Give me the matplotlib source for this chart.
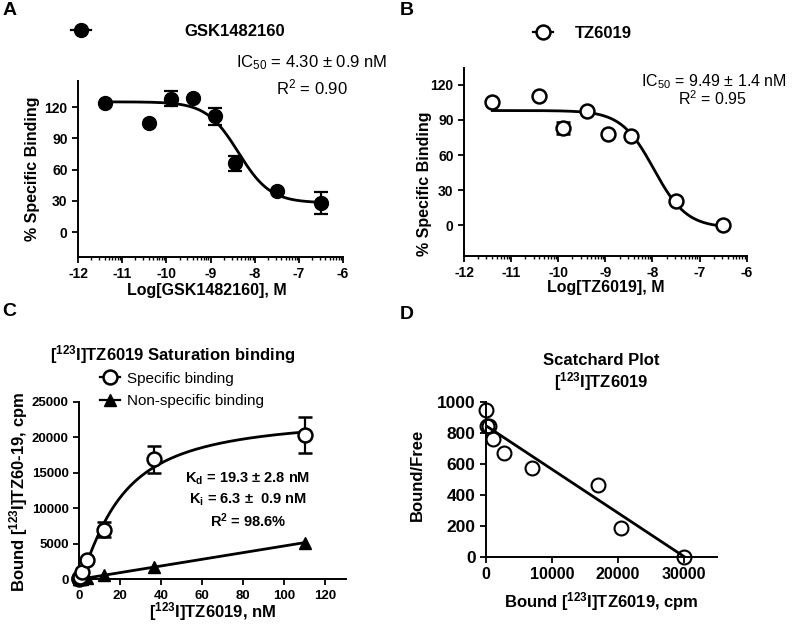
import numpy as np
import matplotlib
matplotlib.use('Agg')
import matplotlib.pyplot as plt
from matplotlib.lines import Line2D

plt.rcParams['font.family'] = ['Liberation Sans', 'DejaVu Sans']
plt.rcParams['mathtext.fontset'] = 'custom'
plt.rcParams['mathtext.rm'] = 'Liberation Sans'
plt.rcParams['mathtext.it'] = 'Liberation Sans'
plt.rcParams['mathtext.bf'] = 'Liberation Sans:bold'
plt.rcParams['mathtext.default'] = 'regular'
plt.rcParams['axes.unicode_minus'] = False

# ---------------- data ----------------
# Panel A: GSK1482160 competition
logA = [-11.4, -10.4, -9.9, -9.4, -8.9, -8.45, -7.5, -6.5]
bindA = [124, 105, 128, 129, 111, 66, 39.5, 27.5]
errA = [0, 0, 7, 0, 8, 7, 0, 10.5]
fitA = dict(top=125, bottom=28, logic50=-8.37, hill=1.2)

# Panel B: TZ6019 competition
logB = [-11.4, -10.4, -9.9, -9.4, -8.95, -8.45, -7.5, -6.5]
bindB = [105, 110, 83, 98, 78, 76, 20.5, 0]
errB = [0, 0, 5, 0, 0, 0, 0, 0]
fitB = dict(top=98, bottom=-2, logic50=-7.97, hill=1.25)

# Panel C: saturation binding
concC = [0.05, 0.15, 0.45, 1.36, 4.07, 12.2, 36.7, 110]
specC = [47, 126, 380, 1030, 2730, 7000, 16900, 20300]
specErrC = [0, 0, 0, 0, 0, 1000, 1900, 2500]
nonspecC = [5, 10, 25, 70, 200, 560, 1700, 5150]
fitC = dict(bmax=23000, kd=20.0, h=1.3)
nsSlope = 47.0

# Panel D: Scatchard
boundD = [47, 126, 380, 1030, 2730, 7000, 16900, 20400, 30000]
bfD = [946, 843, 843, 757, 671, 574, 460, 187, 0]
lineD = dict(intercept=845, xint=30000)

# ---------------- figure ----------------
fig = plt.figure(figsize=(8, 6.27), dpi=100)
W, H = 800, 627


def axes_px(x0, x1, y0, y1):
    return fig.add_axes([x0 / W, 1 - y1 / H, (x1 - x0) / W, (y1 - y0) / H])


def style(ax, tick_fs):
    for s in ['top', 'right']:
        ax.spines[s].set_visible(False)
    for s in ['left', 'bottom']:
        ax.spines[s].set_linewidth(1.4)
    ax.tick_params(direction='out', length=4, width=1.3, labelsize=tick_fs)
    for lab in ax.get_xticklabels() + ax.get_yticklabels():
        lab.set_fontweight('bold')


def labels(ax, xl, yl, xpos, ypos, xfs, yfs):
    ax.set_xlabel(xl, fontsize=xfs, fontweight='bold')
    ax.set_ylabel(yl, fontsize=yfs, fontweight='bold')
    ax.xaxis.label.set_va('center')
    ax.yaxis.label.set_va('center')
    ax.xaxis.set_label_coords(*xpos)
    ax.yaxis.set_label_coords(*ypos)


def sigmoid(x, p):
    return p['bottom'] + (p['top'] - p['bottom']) / (1 + 10 ** ((x - p['logic50']) * p['hill']))


minor_log = [d + np.log10(k) for d in range(-12, -6) for k in range(2, 10)]

# ---- Panel A ----
axA = axes_px(78, 343, 81, 257)
axA.set_xlim(-12, -6)
axA.set_ylim(-24, 145)
xs = np.linspace(min(logA), max(logA), 300)
axA.plot(xs, sigmoid(xs, fitA), color='black', lw=2)
axA.errorbar(logA, bindA, yerr=errA, fmt='o', color='black', ms=10,
             elinewidth=1.6, capsize=5, capthick=1.6, clip_on=False, zorder=3)
axA.set_xticks(range(-12, -5))
axA.set_xticks(minor_log, minor=True)
axA.set_yticks([0, 30, 60, 90, 120])
axA.tick_params(axis='x', which='minor', direction='out', length=2.5, width=1.0)
style(axA, 10)
labels(axA, 'Log[GSK1482160], M', '% Specific Binding', (0.486, -0.193), (-0.17, 0.5), 11.5, 11.5)
hA = Line2D([], [], marker='o', color='black', ms=10, lw=1.6)
axA.legend([hA], ['GSK1482160'], loc='center left', bbox_to_anchor=(-0.025, 1.284),
           frameon=False, borderpad=0, borderaxespad=0, handlelength=1.2,
           handletextpad=5.6, prop={'weight': 'bold', 'size': 12})
axA.text(1.166, 1.102, 'IC$_{50}$ = 4.30 ± 0.9 nM', transform=axA.transAxes,
         ha='right', va='center', fontsize=12)
axA.text(1.019, 0.966, 'R$^2$ = 0.90', transform=axA.transAxes,
         ha='right', va='center', fontsize=12)

# ---- Panel B ----
axB = axes_px(464, 746.7, 68.3, 256)
axB.set_xlim(-12, -6)
axB.set_ylim(-26, 134)
xs = np.linspace(min(logB), max(logB), 300)
axB.plot(xs, sigmoid(xs, fitB), color='black', lw=2)
axB.errorbar(logB, bindB, yerr=errB, fmt='o', color='black', mfc='white', mew=1.8,
             ms=10, elinewidth=1.6, capsize=5, capthick=1.6, clip_on=False, zorder=3)
axB.set_xticks(range(-12, -5))
axB.set_xticks(minor_log, minor=True)
axB.set_yticks([0, 30, 60, 90, 120])
axB.tick_params(axis='x', which='minor', direction='out', length=2.5, width=1.0)
style(axB, 10)
labels(axB, 'Log[TZ6019], M', '% Specific Binding', (0.501, -0.17), (-0.141, 0.384), 11.5, 11.5)
hB = Line2D([], [], marker='o', color='black', mfc='white', mew=1.8, ms=10, lw=1.6)
axB.legend([hB], ['TZ6019'], loc='center left', bbox_to_anchor=(0.244, 1.188),
           frameon=False, borderpad=0, borderaxespad=0, handlelength=1.2,
           handletextpad=1.3, prop={'weight': 'bold', 'size': 12})
axB.text(1.141, 0.93, 'IC$_{50}$ = 9.49 ± 1.4 nM', transform=axB.transAxes,
         ha='right', va='center', fontsize=11.5)
axB.text(1.0, 0.838, 'R$^2$ = 0.95', transform=axB.transAxes,
         ha='right', va='center', fontsize=11.5)

# ---- Panel C ----
axC = axes_px(79, 346, 401.7, 579.3)
axC.set_xlim(0, 130)
axC.set_ylim(0, 25000)
xs = np.linspace(0, max(concC), 300)
axC.plot(xs, fitC['bmax'] * xs ** fitC['h'] / (fitC['kd'] ** fitC['h'] + xs ** fitC['h']),
         color='black', lw=2)
axC.plot([0, max(concC)], [0, nsSlope * max(concC)], color='black', lw=2)
axC.errorbar(concC, specC, yerr=specErrC, fmt='o', color='black', mfc='white', mew=1.8,
             ms=10, elinewidth=1.6, capsize=5, capthick=1.6, clip_on=False, zorder=3)
axC.plot(concC, nonspecC, '^', color='black', ms=9, clip_on=False, zorder=3)
axC.set_xticks(range(0, 121, 20))
axC.set_yticks(range(0, 25001, 5000))
style(axC, 9.5)
labels(axC, '[$^{123}$I]TZ6019, nM', 'Bound [$^{123}$I]TZ60-19, cpm',
       (0.5, -0.182), (-0.225, 0.494), 12, 12)
hC1 = Line2D([], [], marker='o', color='black', mfc='white', mew=1.8, ms=10, lw=1.6)
hC2 = Line2D([], [], marker='^', color='black', ms=9, lw=1.6)
axC.legend([hC1, hC2], ['Specific binding', 'Non-specific binding'], loc='center left',
           bbox_to_anchor=(0.079, 1.067), frameon=False, borderpad=0, borderaxespad=0,
           handlelength=1.3, handletextpad=0.45, labelspacing=0.55, prop={'size': 11})
axC.text(0.352, 1.268, '[$^{123}$I]TZ6019 Saturation binding', transform=axC.transAxes,
         ha='center', va='center', fontsize=12, fontweight='bold')
axC.text(0.633, 0.565, 'K$_d$ = 19.3 ± 2.8 nM', transform=axC.transAxes,
         ha='center', va='center', fontsize=10.5, fontweight='bold')
axC.text(0.633, 0.448, 'K$_i$ = 6.3 ±  0.9 nM', transform=axC.transAxes,
         ha='center', va='center', fontsize=10.5, fontweight='bold')
axC.text(0.633, 0.33, 'R$^2$ = 98.6%', transform=axC.transAxes,
         ha='center', va='center', fontsize=10.5, fontweight='bold')

# ---- Panel D ----
axD = axes_px(486, 717.3, 401.7, 556.7)
axD.set_xlim(0, 35000)
axD.set_ylim(0, 1000)
xl = np.array([0, lineD['xint']])
axD.plot(xl, lineD['intercept'] * (1 - xl / lineD['xint']), color='black', lw=2)
axD.plot(boundD, bfD, 'o', color='black', mfc='none', mew=1.5, ms=10, clip_on=False, zorder=3)
axD.set_xticks([0, 10000, 20000, 30000])
axD.set_yticks(range(0, 1001, 200))
style(axD, 11.5)
axD.tick_params(axis='y', labelsize=12.5)
labels(axD, 'Bound [$^{123}$I]TZ6019, cpm', 'Bound/Free', (0.5, -0.29), (-0.296, 0.527), 12, 12)
axD.text(0.5, 1.185, 'Scatchard Plot\n[$^{123}$I]TZ6019', transform=axD.transAxes,
         ha='center', va='center', fontsize=12, fontweight='bold', linespacing=1.15)

# panel letters
for lbl, x, y in [('A', 3, 2), ('B', 400, 2), ('C', 2, 303), ('D', 400, 306)]:
    fig.text(x / W, 1 - y / H, lbl, ha='left', va='top', fontsize=14, fontweight='bold')

fig.savefig('out.png', dpi=100)
